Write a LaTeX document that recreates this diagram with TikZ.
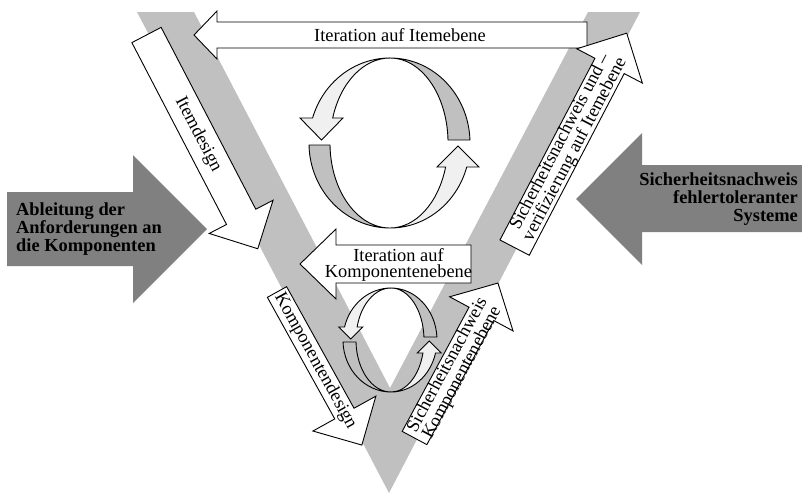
\documentclass[tikz,border=0pt]{standalone}
\usepackage{fontspec}
\setmainfont{Liberation Serif}
\definecolor{vband}{HTML}{C0C0C0}
\definecolor{sidegray}{HTML}{808080}
\definecolor{ringlight}{HTML}{F0F0F0}
\definecolor{ringdark}{HTML}{C0C0C0}

\begin{document}
\begin{tikzpicture}
  [x=1pt, y=-1pt, every node/.style={inner sep=0, font=\fontsize{18.4}{16.5}\selectfont},
   whitearrow/.style={draw, fill=white, line width=0.9pt},
   grayarrow/.style={fill=sidegray},
   lightband/.style={draw, fill=ringlight, line width=0.9pt},
   darkband/.style={draw, fill=ringdark, line width=0.9pt},
   boldtext/.style={font=\fontsize{18.4}{18}\selectfont\bfseries}]

  \useasboundingbox (0,0) rectangle (802,496);

  \fill[vband] (137,12) -- (194,12) -- (390,388) -- (588,12) -- (640,12) -- (389,493) -- cycle;

  \fill[grayarrow] (7,192) -- (133,192) -- (133,155) -- (207,229) -- (133,303) -- (133,266) -- (7,266) -- cycle;
  \node[boldtext, align=left, anchor=west] (requirements) at (16,229) {Ableitung der\\Anforderungen an\\die Komponenten};

  \fill[grayarrow] (802,165) -- (642,165) -- (642,133) -- (576,199) -- (642,265) -- (642,232) -- (802,232) -- cycle;
  \node[boldtext, align=right, anchor=east] (faulttolerant) at (798,199) {Sicherheitsnachweis\\fehlertoleranter\\Systeme};

  \draw[whitearrow] (587,22) -- (217,22) -- (217,11) -- (194,35) -- (217,59) -- (217,48) -- (587,48) -- cycle;
  \node (itemlevel) at (400,35) {Iteration auf Itemebene};

  \draw[whitearrow] (471,245) -- (336,245) -- (336,229) -- (300,264) -- (336,299) -- (336,283) -- (471,283) -- cycle;
  \node[align=center] (complevel) at (398.5,265) {Iteration auf\\Komponentenebene};

  \begin{scope}[shift={(146.5,35)}, rotate=-62.5]
    \draw[whitearrow] (0,-16.5) -- (205,-16.5) -- (205,-36) -- (241,0) -- (205,36) -- (205,16.5) -- (0,16.5) -- cycle;
    \node[rotate=-62.5] (itemdesign) at (112,0) {Itemdesign};
  \end{scope}

  \begin{scope}[shift={(514.6,247.6)}, rotate=62.4]
    \draw[whitearrow] (0,-16.5) -- (205,-16.5) -- (205,-37) -- (242,0) -- (205,37) -- (205,16.5) -- (0,16.5) -- cycle;
    \node[rotate=62.4, align=center] (itemproof) at (115,0) {Sicherheitsnachweis und –\\verifizierung auf Itemebene};
  \end{scope}

  \begin{scope}[shift={(277,292)}, rotate=-61]
    \draw[whitearrow] (0,-11) -- (139,-11) -- (139,-36) -- (175,0) -- (139,36) -- (139,11) -- (0,11) -- cycle;
    \node[rotate=-61] (compdesign) at (79,0) {Komponentendesign};
  \end{scope}

  \begin{scope}[shift={(414.5,438)}, rotate=61.7]
    \draw[whitearrow] (0,-14) -- (141,-14) -- (141,-36) -- (176,0) -- (141,36) -- (141,14) -- (0,14) -- cycle;
    \node[rotate=61.7, align=center] (compproof) at (80,3) {Sicherheitsnachweis\\Komponentenebene};
  \end{scope}

  \draw[lightband] (390,58) arc[start angle=270, end angle=197.1, x radius=81, y radius=85]
    -- (300,118) -- (321.5,140) -- (343,118) -- (332.7,118)
    arc[start angle=197.1, end angle=270, x radius=60, y radius=85] -- cycle;
  \draw[darkband] (390,58) arc[start angle=-90, end angle=-2, x radius=80, y radius=85]
    -- (448,140) arc[start angle=-2, end angle=-90, x radius=58, y radius=85] -- cycle;
  \draw[darkband] (309,145) arc[start angle=178.65, end angle=90, x radius=81, y radius=85]
    arc[start angle=90, end angle=178.65, x radius=60, y radius=85] -- cycle;
  \draw[lightband] (390,228) arc[start angle=90, end angle=16.4, x radius=80, y radius=85]
    -- (479,167) -- (458,146) -- (437,167) -- (445.6,167)
    arc[start angle=16.4, end angle=90, x radius=58, y radius=85] -- cycle;

  \draw[lightband] (391,288) arc[start angle=270, end angle=194.48, x radius=48, y radius=52]
    -- (338.8,327) -- (350.8,339) -- (362.8,327) -- (357.1,327)
    arc[start angle=194.48, end angle=270, x radius=35, y radius=52] -- cycle;
  \draw[darkband] (391,288) arc[start angle=-90, end angle=-3.3, x radius=46, y radius=52]
    -- (423.95,337) arc[start angle=-3.3, end angle=-90, x radius=33, y radius=52] -- cycle;
  \draw[darkband] (343,342) arc[start angle=177.8, end angle=90, x radius=48, y radius=52]
    arc[start angle=90, end angle=177.8, x radius=35, y radius=52] -- cycle;
  \draw[lightband] (391,392) arc[start angle=90, end angle=14.48, x radius=46, y radius=52]
    -- (441.2,353) -- (429.2,341) -- (417.2,353) -- (422.95,353)
    arc[start angle=14.48, end angle=90, x radius=33, y radius=52] -- cycle;
\end{tikzpicture}
\end{document}
